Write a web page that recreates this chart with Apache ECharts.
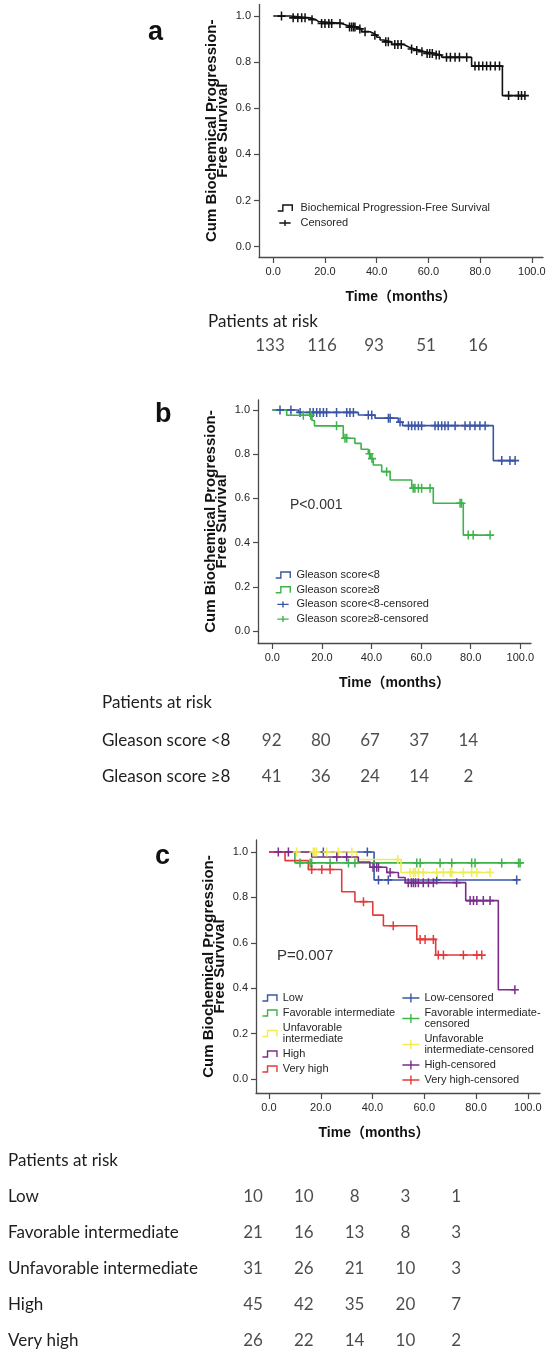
<!DOCTYPE html>
<html><head><meta charset="utf-8">
<script src="https://cdn.jsdelivr.net/npm/echarts@6/dist/echarts.min.js"></script>
<style>html,body{margin:0;padding:0;background:#fff}#c{width:551px;height:1365px}</style>
</head><body><div id="c"></div>
<script>
// ---------------- data ----------------
const timeTicks = [0, 20, 40, 60, 80, 100];
const survTicks = [0, 0.2, 0.4, 0.6, 0.8, 1.0];
const riskTimes = [0, 20, 40, 60, 80];

// Panel a: all patients
const aStepT = [0, 6.5, 14.2, 16.5, 17.5, 26.5, 28.4, 32.9, 34.2, 37.4, 38.7, 40.0, 41.3, 42.6, 45.8, 50.3, 51.6, 52.9, 54.8, 56.8, 58.7, 62.0, 65.1, 76.7, 88.6, 97.5];
const aStepS = [1.0, 0.992, 0.984, 0.976, 0.968, 0.96, 0.952, 0.944, 0.932, 0.925, 0.917, 0.908, 0.896, 0.888, 0.877, 0.870, 0.863, 0.857, 0.851, 0.845, 0.838, 0.831, 0.821, 0.783, 0.655, 0.655];
const aCensT = [3.2, 7.7, 9.5, 11.0, 12.3, 15.0, 18.7, 20.0, 21.5, 22.6, 25.8, 29.5, 30.3, 31.0, 31.6, 33.5, 35.5, 39.3, 43.5, 44.5, 47.0, 48.2, 49.5, 53.5, 55.5, 57.5, 59.5, 60.5, 61.5, 63.0, 64.2, 67.0, 68.5, 70.3, 72.0, 74.8, 78.0, 79.5, 81.0, 82.5, 84.0, 85.8, 87.5, 91.0, 94.8, 96.0, 97.3];
const aRisk = [133, 116, 93, 51, 16];

// Panel b: Gleason score
const bLowT = [0, 10.5, 34.7, 41.4, 50.8, 52.5, 89.1, 97.9];
const bLowS = [1.0, 0.989, 0.977, 0.963, 0.945, 0.929, 0.771, 0.771];
const bLowCens = [3.1, 7.5, 11.2, 15.2, 16.5, 17.9, 19.2, 20.6, 21.9, 25.9, 30.0, 31.3, 32.7, 38.7, 40.1, 46.8, 47.5, 51.5, 54.9, 56.2, 57.5, 58.9, 60.2, 65.6, 66.9, 68.3, 69.6, 70.9, 73.7, 77.7, 79.7, 81.7, 83.7, 85.8, 92.5, 95.8, 97.9];
const bHighT = [0, 5.8, 16.0, 17.0, 28.6, 33.3, 35.8, 38.7, 39.7, 40.7, 44.1, 47.5, 56.2, 64.9, 77.0, 87.8];
const bHighS = [1.0, 0.976, 0.952, 0.928, 0.872, 0.849, 0.822, 0.802, 0.78, 0.751, 0.721, 0.683, 0.646, 0.578, 0.434, 0.434];
const bHighCens = [12.5, 15.5, 25.9, 29.3, 30.0, 39.2, 40.2, 46.1, 56.8, 57.5, 58.9, 60.2, 63.6, 75.7, 76.3, 79.0, 81.0, 87.8];
const bRows = ['Gleason score <8', 'Gleason score \u22658'];
const bRiskLow = [92, 80, 67, 37, 14];
const bRiskHigh = [41, 36, 24, 14, 2];

// Panel c: risk groups
const cLowT = [0, 40.6, 95.7];
const cLowS = [1.0, 0.877, 0.877];
const cLowCens = [21.0, 38.0, 42.3, 46.1, 64.8, 95.7];
const cFavT = [0, 10.0, 97.0];
const cFavS = [1.0, 0.952, 0.952];
const cFavCens = [12.0, 15.9, 16.5, 23.6, 30.7, 33.2, 57.1, 58.4, 66.1, 70.6, 78.3, 79.6, 89.9, 96.4, 97.0];
const cUnfT = [0, 33.9, 51.0, 85.4];
const cUnfS = [1.0, 0.967, 0.91, 0.91];
const cUnfCens = [10.7, 17.1, 17.7, 18.4, 22.3, 26.8, 32.0, 49.8, 54.5, 55.8, 56.5, 57.7, 59.6, 64.8, 67.4, 70.0, 70.6, 75.1, 78.3, 80.3, 85.4];
const cHighT = [0, 16.5, 34.5, 39.0, 45.5, 50.0, 52.6, 76.0, 88.6, 95.0];
const cHighS = [1.0, 0.978, 0.956, 0.933, 0.91, 0.888, 0.865, 0.786, 0.393, 0.393];
const cHighCens = [3.6, 7.5, 26.2, 30.0, 40.2, 41.6, 42.3, 46.8, 53.8, 55.0, 55.8, 56.6, 57.7, 59.6, 61.6, 63.5, 72.5, 77.7, 79.0, 80.3, 82.8, 85.4, 95.0];
const cVhT = [0, 6.2, 15.2, 28.1, 33.2, 40.1, 44.2, 57.1, 64.4, 82.2];
const cVhS = [1.0, 0.962, 0.923, 0.825, 0.781, 0.722, 0.675, 0.615, 0.546, 0.546];
const cVhCens = [16.5, 20.4, 23.6, 36.5, 48.0, 58.4, 60.3, 63.5, 65.4, 67.4, 75.1, 80.3, 82.2];
const cRows = ['Low', 'Favorable intermediate', 'Unfavorable intermediate', 'High', 'Very high'];
const cRiskLow = [10, 10, 8, 3, 1];
const cRiskFav = [21, 16, 13, 8, 3];
const cRiskUnf = [31, 26, 21, 10, 3];
const cRiskHigh = [45, 42, 35, 20, 7];
const cRiskVh = [26, 22, 14, 10, 2];

// ---------------- styling ----------------
const FONT = "'Liberation Sans', Arial, 'Noto Sans CJK SC', sans-serif";
const TFONT = "Lato, 'Noto Sans', sans-serif";
const AX = '#4a4a4a';
const TXT = '#262626';
const COL = { black: '#111111', blue: '#3b55a6', green: '#3db34a', yellow: '#f0ec55', purple: '#7b2d8b', red: '#e23b3b' };
const STEP = 'path://M0,7L6,7L6,0L17,0L17,7';
const PLUS_S = 'path://M0,4.5L17,4.5M8.5,0L8.5,9';
const PLUS = 'path://M0,5L10,5M5,0L5,10';

function stepAt(T, S, t) { let s = S[0]; for (let i = 0; i < T.length; i++) { if (T[i] <= t) s = S[i]; } return s; }

function km(name, T, S, color, idx) {
  return { type: 'line', name, xAxisIndex: idx, yAxisIndex: idx, step: 'end', symbol: 'none', showSymbol: false,
    data: T.map((t, i) => [t, S[i]]), lineStyle: { color, width: 1.6 }, itemStyle: { color }, z: 2, silent: true };
}
function cens(name, C, T, S, color, idx) {
  return { type: 'scatter', name, xAxisIndex: idx, yAxisIndex: idx, symbol: PLUS, symbolSize: [8, 9],
    data: C.map(t => [t, stepAt(T, S, t)]), itemStyle: { color: 'transparent', borderColor: color, borderWidth: 1.6, opacity: 1 }, z: 3, silent: true };
}
function xAx(idx, min, max, padR) {
  return { type: 'value', gridIndex: idx, min, max, name: 'Time\uff08months\uff09', nameLocation: 'middle', nameGap: 33,
    nameMoveOverlap: false,
    nameTextStyle: { fontFamily: FONT, fontWeight: 'bold', fontSize: 14, color: '#111', padding: [0, padR || 0, 0, 0] },
    axisLine: { onZero: false, lineStyle: { color: AX, width: 1.3 } },
    axisTick: { show: true, length: 6, customValues: timeTicks, lineStyle: { color: AX, width: 1.2 } },
    axisLabel: { customValues: timeTicks, formatter: v => v.toFixed(1), fontFamily: FONT, fontSize: 11, color: TXT, margin: 9 },
    splitLine: { show: false } };
}
function yAx(idx, min, max) {
  return { type: 'value', gridIndex: idx, min, max, name: 'Cum Biochemical Progression-\nFree Survival', nameLocation: 'middle', nameGap: 31,
    nameMoveOverlap: false,
    nameTextStyle: { fontFamily: FONT, fontWeight: 'bold', fontSize: 15, lineHeight: 11, color: '#111' },
    axisLine: { onZero: false, lineStyle: { color: AX, width: 1.3 } },
    axisTick: { show: true, length: 5, customValues: survTicks, lineStyle: { color: AX, width: 1.2 } },
    axisLabel: { customValues: survTicks, formatter: v => v.toFixed(1), fontFamily: FONT, fontSize: 11, color: TXT, margin: 8 },
    splitLine: { show: false } };
}
function legendItem(name, icon, color) {
  return { name, icon, itemStyle: { color: 'transparent', borderColor: color, borderWidth: 1.4 } };
}
function legend(left, top, itemWidth, itemHeight, gap, data) {
  return { orient: 'vertical', left, top, padding: 0, itemGap: gap, itemWidth, itemHeight, selectedMode: false,
    textStyle: { fontFamily: FONT, fontSize: 11, lineHeight: 11, color: TXT }, data };
}
function riskSeries(idx, rowName, values) {
  return { type: 'scatter', xAxisIndex: idx, yAxisIndex: idx, symbolSize: 1, silent: true,
    itemStyle: { color: 'rgba(0,0,0,0)' },
    data: riskTimes.map((t, i) => [t, rowName, values[i]]),
    label: { show: true, position: 'inside', formatter: p => String(p.value[2]), fontFamily: TFONT, fontSize: 17, color: '#1e1e1e' } };
}
function tableX(idx) { return { type: 'value', gridIndex: idx, min: 0, max: 100, show: false }; }
function tableY(idx, rows, margin, show) {
  return { type: 'category', gridIndex: idx, data: rows, inverse: true, show: show,
    axisLine: { show: false }, axisTick: { show: false }, splitLine: { show: false },
    axisLabel: { align: 'left', margin, fontFamily: TFONT, fontSize: 17, color: '#1e1e1e' } };
}

const grids = [
  { left: 259, top: 4.5, width: 284, height: 252.5 },      // a plot
  { left: 258, top: 400, width: 273, height: 243 },        // b plot
  { left: 256, top: 840, width: 284, height: 253 },        // c plot
  { left: 270, top: 336, width: 260, height: 20 },         // a table
  { left: 271.7, top: 723, width: 245.8, height: 72 },     // b table
  { left: 253, top: 1179, width: 254, height: 180 }        // c table
];

const option = {
  animation: false,
  backgroundColor: '#ffffff',
  grid: grids,
  xAxis: [xAx(0, -5.5, 104.3), xAx(1, -5.77, 104.3), xAx(2, -5.02, 104.7, 48), tableX(3), tableX(4), tableX(5)],
  yAxis: [yAx(0, -0.045, 1.05), yAx(1, -0.054, 1.045), yAx(2, -0.062, 1.053),
    tableY(3, ['all'], 0, false), tableY(4, bRows, 169.7, true), tableY(5, cRows, 245, true)],
  legend: [
    legend(277, 202.5, 21, 6, 4, [
      legendItem('Biochemical Progression-Free Survival', STEP, COL.black),
      legendItem('Censored', PLUS_S, COL.black)]),
    legend(275, 569.5, 17, 6, 3.7, [
      legendItem('Gleason score<8', STEP, COL.blue),
      legendItem('Gleason score\u22658', STEP, COL.green),
      legendItem('Gleason score<8-censored', PLUS_S, COL.blue),
      legendItem('Gleason score\u22658-censored', PLUS_S, COL.green)]),
    legend(261.7, 992.5, 16, 6, 4, [
      legendItem('Low', STEP, COL.blue),
      legendItem('Favorable intermediate', STEP, COL.green),
      legendItem('Unfavorable\nintermediate', STEP, COL.yellow),
      legendItem('High', STEP, COL.purple),
      legendItem('Very high', STEP, COL.red)]),
    legend(401.7, 992.5, 17, 9, 4, [
      legendItem('Low-censored', PLUS_S, COL.blue),
      legendItem('Favorable intermediate-\ncensored', PLUS_S, COL.green),
      legendItem('Unfavorable\nintermediate-censored', PLUS_S, COL.yellow),
      legendItem('High-censored', PLUS_S, COL.purple),
      legendItem('Very high-censored', PLUS_S, COL.red)])
  ],
  graphic: [
    { type: 'text', left: 148, top: 19, style: { text: 'a', font: "bold 27px 'Liberation Sans', Arial", fill: '#111', textVerticalAlign: 'middle' } },
    { type: 'text', left: 155, top: 401, style: { text: 'b', font: "bold 27px 'Liberation Sans', Arial", fill: '#111' } },
    { type: 'text', left: 155, top: 843, style: { text: 'c', font: "bold 27px 'Liberation Sans', Arial", fill: '#111' } },
    { type: 'text', left: 290, top: 498, style: { text: 'P<0.001', font: "14px 'Liberation Sans', Arial", fill: '#333' } },
    { type: 'text', left: 277, top: 948, style: { text: 'P=0.007', font: "15px 'Liberation Sans', Arial", fill: '#333' } },
    { type: 'text', left: 208, top: 313, style: { text: 'Patients at risk', font: "17px Lato, 'Noto Sans', sans-serif", fill: '#1e1e1e' } },
    { type: 'text', left: 102, top: 694, style: { text: 'Patients at risk', font: "17px Lato, 'Noto Sans', sans-serif", fill: '#1e1e1e' } },
    { type: 'text', left: 8, top: 1152, style: { text: 'Patients at risk', font: "17px Lato, 'Noto Sans', sans-serif", fill: '#1e1e1e' } }
  ],
  series: [
    km('Biochemical Progression-Free Survival', aStepT, aStepS, COL.black, 0),
    cens('Censored', aCensT, aStepT, aStepS, COL.black, 0),

    km('Gleason score<8', bLowT, bLowS, COL.blue, 1),
    km('Gleason score\u22658', bHighT, bHighS, COL.green, 1),
    cens('Gleason score<8-censored', bLowCens, bLowT, bLowS, COL.blue, 1),
    cens('Gleason score\u22658-censored', bHighCens, bHighT, bHighS, COL.green, 1),

    km('Low', cLowT, cLowS, COL.blue, 2),
    km('Favorable intermediate', cFavT, cFavS, COL.green, 2),
    km('Unfavorable\nintermediate', cUnfT, cUnfS, COL.yellow, 2),
    km('High', cHighT, cHighS, COL.purple, 2),
    km('Very high', cVhT, cVhS, COL.red, 2),
    cens('Low-censored', cLowCens, cLowT, cLowS, COL.blue, 2),
    cens('Favorable intermediate-\ncensored', cFavCens, cFavT, cFavS, COL.green, 2),
    cens('Unfavorable\nintermediate-censored', cUnfCens, cUnfT, cUnfS, COL.yellow, 2),
    cens('High-censored', cHighCens, cHighT, cHighS, COL.purple, 2),
    cens('Very high-censored', cVhCens, cVhT, cVhS, COL.red, 2),

    riskSeries(3, 'all', aRisk),
    riskSeries(4, bRows[0], bRiskLow),
    riskSeries(4, bRows[1], bRiskHigh),
    riskSeries(5, cRows[0], cRiskLow),
    riskSeries(5, cRows[1], cRiskFav),
    riskSeries(5, cRows[2], cRiskUnf),
    riskSeries(5, cRows[3], cRiskHigh),
    riskSeries(5, cRows[4], cRiskVh)
  ]
};

const chart = echarts.init(document.getElementById('c'), null, { renderer: 'canvas', width: 551, height: 1365 });
chart.setOption(option);
</script>
</body></html>
